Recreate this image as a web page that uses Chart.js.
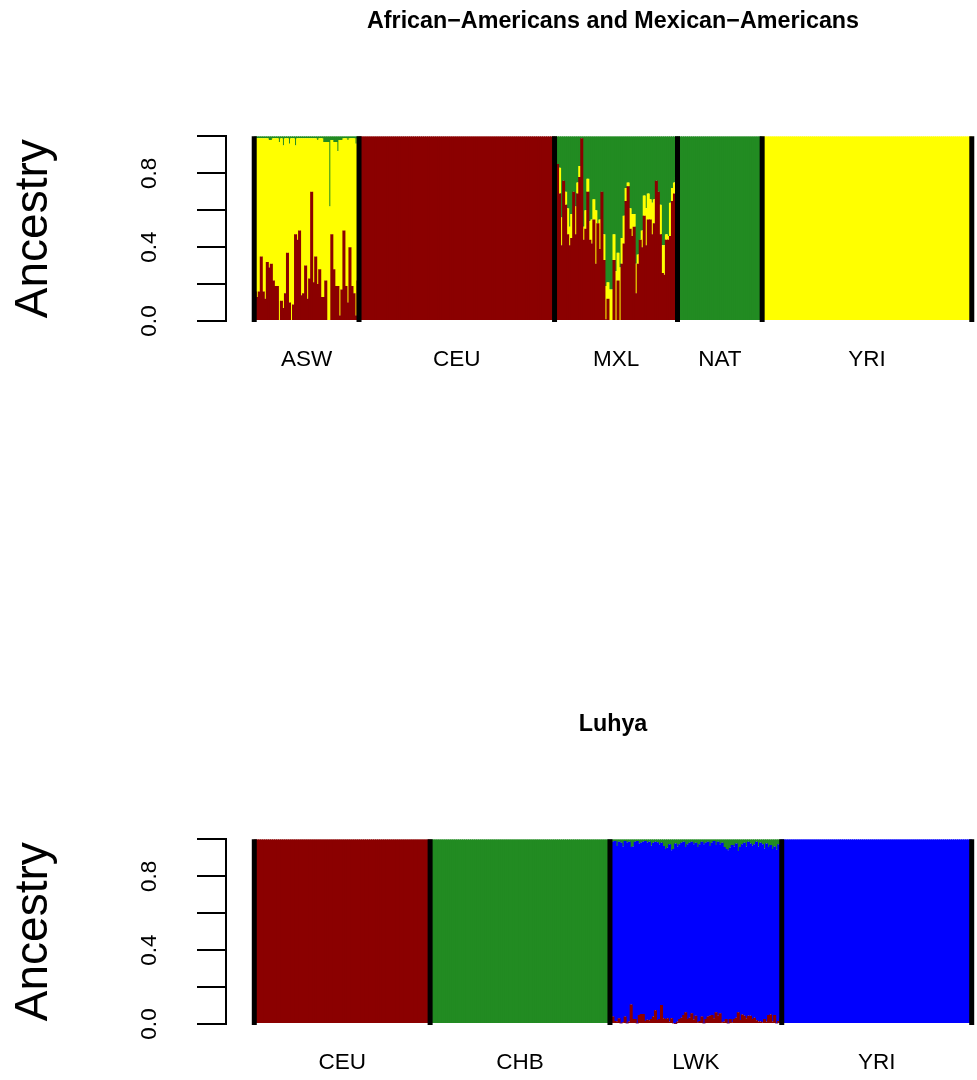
<!DOCTYPE html>
<html><head><meta charset="utf-8">
<script src="https://cdn.jsdelivr.net/npm/chart.js@4.4.1/dist/chart.umd.min.js"></script>
<style>
html,body{margin:0;padding:0;background:#fff;overflow:hidden;width:977px;height:1080px;}
canvas{position:absolute;left:0;}
#c1{top:0px}
#c2{top:703px}
</style></head><body>
<canvas id="c1" width="1000" height="377"></canvas>
<canvas id="c2" width="1000" height="377"></canvas>
<script>
// ---------------- Top panel data ----------------
const topTitle = 'African\u2212Americans and Mexican\u2212Americans';
const topGroups = ['ASW', 'CEU', 'MXL', 'NAT', 'YRI'];
const topComponents = ['CEU', 'YRI', 'NAT'];           // stacking order, bottom -> top
const topColors = ['#8B0000', '#FFFF00', '#228B22'];

const aswCEU = [0.16,0.13,0.16,0.35,0.16,0.12,0.32,0.29,0.31,0.22,
  0.19,0.19,0.00,0.11,0.07,0.15,0.37,0.10,0.00,0.09,
  0.47,0.44,0.49,0.14,0.15,0.30,0.12,0.23,0.70,0.21,
  0.35,0.20,0.28,0.13,0.13,0.22,0.00,0.00,0.47,0.28,
  0.19,0.19,0.03,0.17,0.49,0.19,0.10,0.40,0.19,0.15,
  0.03,0.22];
const aswYRI = [0.83,0.86,0.83,0.64,0.83,0.87,0.67,0.69,0.67,0.77,
  0.80,0.80,0.97,0.88,0.88,0.84,0.62,0.86,0.99,0.90,
  0.48,0.55,0.50,0.85,0.84,0.69,0.87,0.76,0.29,0.78,
  0.64,0.78,0.71,0.86,0.84,0.75,0.97,0.62,0.51,0.69,
  0.78,0.73,0.95,0.81,0.50,0.80,0.88,0.59,0.80,0.84,
  0.93,0.77];
const aswNAT = [0.01,0.01,0.01,0.01,0.01,0.01,0.01,0.02,0.02,0.01,
  0.01,0.01,0.03,0.01,0.05,0.01,0.01,0.04,0.01,0.01,
  0.05,0.01,0.01,0.01,0.01,0.01,0.01,0.01,0.01,0.01,
  0.01,0.02,0.01,0.01,0.03,0.03,0.03,0.38,0.02,0.03,
  0.03,0.08,0.02,0.02,0.01,0.01,0.02,0.01,0.01,0.01,
  0.04,0.01];

const ceuTopCEU = [1,1,1,1,1,1,1,1,1,1,
  1,1,1,1,1,1,1,1,1,1,
  1,1,1,1,1,1,1,1,1,1,
  1,1,1,1,1,1,1,1,1,1,
  1,1,1,1,1,1,1,1,1,1,
  1,1,1,1,1,1,1,1,1,1,
  1,1,1,1,1,1,1,1,1,1,
  1,1,1,1,1,1,1,1,1,1,
  1,1,1,1,1,1,1,1,1,1,
  1,1,1,1,1,1,1];

const mxlCEU = [0.80,0.85,0.69,0.41,0.76,0.63,0.47,0.41,0.45,0.70,
  0.47,0.69,0.78,0.99,0.44,0.50,0.70,0.44,0.42,0.55,
  0.31,0.53,0.39,0.70,0.33,0.01,0.12,0.00,0.00,0.33,
  0.00,0.22,0.00,0.31,0.42,0.65,0.73,0.50,0.46,0.51,
  0.15,0.31,0.44,0.40,0.57,0.41,0.55,0.55,0.47,0.53,
  0.76,0.70,0.47,0.26,0.25,0.44,0.44,0.46,0.65,0.69,
  0.71];
const mxlYRI = [0.05,0.00,0.14,0.15,0.00,0.07,0.14,0.10,0.13,0.00,
  0.15,0.06,0.06,0.00,0.07,0.10,0.07,0.10,0.13,0.11,
  0.29,0.00,0.16,0.00,0.14,0.18,0.09,0.17,0.17,0.14,
  0.27,0.15,0.29,0.14,0.15,0.07,0.02,0.11,0.12,0.07,
  0.16,0.05,0.00,0.09,0.11,0.20,0.14,0.11,0.17,0.13,
  0.00,0.00,0.16,0.15,0.16,0.03,0.02,0.18,0.07,0.06,
  0.07];
const mxlNAT = [0.15,0.15,0.17,0.44,0.24,0.30,0.39,0.49,0.42,0.30,
  0.38,0.25,0.16,0.01,0.49,0.40,0.23,0.46,0.45,0.34,
  0.40,0.47,0.45,0.30,0.53,0.81,0.79,0.83,0.83,0.53,
  0.73,0.63,0.71,0.55,0.43,0.28,0.25,0.39,0.42,0.42,
  0.69,0.64,0.56,0.51,0.32,0.39,0.31,0.34,0.36,0.34,
  0.24,0.30,0.37,0.59,0.59,0.53,0.54,0.36,0.28,0.25,
  0.22];

const natTopNAT = [1,1,1,1,1,1,1,1,1,1,
  1,1,1,1,1,1,1,1,1,1,
  1,1,1,1,1,1,1,1,1,1,
  1,1,1,1,1,1,1,1,1,1,
  1,1];

const yriTopYRI = [1,1,1,1,1,1,1,1,1,1,
  1,1,1,1,1,1,1,1,1,1,
  1,1,1,1,1,1,1,1,1,1,
  1,1,1,1,1,1,1,1,1,1,
  1,1,1,1,1,1,1,1,1,1,
  1,1,1,1,1,1,1,1,1,1,
  1,1,1,1,1,1,1,1,1,1,
  1,1,1,1,1,1,1,1,1,1,
  1,1,1,1,1,1,1,1,1,1,
  1,1,1,1,1,1,1,1,1,1,
  1,1,1,1];

// ---------------- Bottom panel data ----------------
const botTitle = 'Luhya';
const botGroups = ['CEU', 'CHB', 'LWK', 'YRI'];
const botComponents = ['CEU', 'YRI', 'CHB'];          // stacking order, bottom -> top
const botColors = ['#8B0000', '#0000FF', '#228B22'];

const ceuBotCEU = [1,1,1,1,1,1,1,1,1,1,
  1,1,1,1,1,1,1,1,1,1,
  1,1,1,1,1,1,1,1,1,1,
  1,1,1,1,1,1,1,1,1,1,
  1,1,1,1,1,1,1,1,1,1,
  1,1,1,1,1,1,1,1,1,1,
  1,1,1,1,1,1,1,1,1,1,
  1,1,1,1,1,1,1,1,1,1,
  1,1,1,1,1,1,1];

const chbBotCHB = [1,1,1,1,1,1,1,1,1,1,
  1,1,1,1,1,1,1,1,1,1,
  1,1,1,1,1,1,1,1,1,1,
  1,1,1,1,1,1,1,1,1,1,
  1,1,1,1,1,1,1,1,1,1,
  1,1,1,1,1,1,1,1,1,1,
  1,1,1,1,1,1,1,1,1,1,
  1,1,1,1,1,1,1,1,1,1,
  1,1,1,1,1,1,1,1,1];

const lwkCEU = [0.009,0.040,0.016,0.013,0.031,0.004,0.009,0.040,0.004,0.013,
  0.106,0.027,0.027,0.004,0.049,0.054,0.054,0.016,0.023,0.020,
  0.027,0.040,0.074,0.022,0.027,0.103,0.031,0.027,0.031,0.013,
  0.031,0.004,0.002,0.013,0.027,0.034,0.049,0.063,0.027,0.034,
  0.058,0.025,0.045,0.009,0.016,0.040,0.004,0.027,0.040,0.045,
  0.049,0.031,0.063,0.045,0.058,0.009,0.013,0.027,0.004,0.027,
  0.009,0.027,0.034,0.063,0.022,0.052,0.045,0.031,0.045,0.045,
  0.027,0.034,0.020,0.013,0.013,0.009,0.027,0.013,0.049,0.052,
  0.013,0.049,0.004,0.016,0.031];
const lwkYRI = [0.960,0.947,0.975,0.951,0.956,0.978,0.953,0.951,0.978,0.974,
  0.853,0.935,0.960,0.987,0.928,0.928,0.933,0.975,0.959,0.967,
  0.939,0.942,0.913,0.962,0.946,0.879,0.933,0.921,0.924,0.960,
  0.910,0.944,0.975,0.949,0.946,0.948,0.938,0.896,0.946,0.948,
  0.929,0.948,0.937,0.950,0.957,0.947,0.969,0.955,0.947,0.919,
  0.933,0.960,0.906,0.942,0.915,0.973,0.946,0.921,0.937,0.928,
  0.960,0.935,0.943,0.874,0.937,0.921,0.937,0.931,0.942,0.932,
  0.939,0.939,0.967,0.949,0.969,0.964,0.924,0.964,0.910,0.917,
  0.935,0.913,0.940,0.957,0.924];
const lwkCHB = [0.031,0.013,0.009,0.036,0.013,0.018,0.038,0.009,0.018,0.013,
  0.041,0.038,0.013,0.009,0.023,0.018,0.013,0.009,0.018,0.013,
  0.034,0.018,0.013,0.016,0.027,0.018,0.036,0.052,0.045,0.027,
  0.059,0.052,0.023,0.038,0.027,0.018,0.013,0.041,0.027,0.018,
  0.013,0.027,0.018,0.041,0.027,0.013,0.027,0.018,0.013,0.036,
  0.018,0.009,0.031,0.013,0.027,0.018,0.041,0.052,0.059,0.045,
  0.031,0.038,0.023,0.063,0.041,0.027,0.018,0.038,0.013,0.023,
  0.034,0.027,0.013,0.038,0.018,0.027,0.049,0.023,0.041,0.031,
  0.052,0.038,0.056,0.027,0.045];

const yriBotYRI = [1,1,1,1,1,1,1,1,1,1,
  1,1,1,1,1,1,1,1,1,1,
  1,1,1,1,1,1,1,1,1,1,
  1,1,1,1,1,1,1,1,1,1,
  1,1,1,1,1,1,1,1,1,1,
  1,1,1,1,1,1,1,1,1,1,
  1,1,1,1,1,1,1,1,1,1,
  1,1,1,1,1,1,1,1,1,1,
  1,1,1,1,1,1,1,1,1,1,
  1,1,1,1];

// ---------------- Axis tick labels ----------------
const yTickValues = [0, 0.2, 0.4, 0.6, 0.8, 1.0];
const yTickLabels = ['0.0', '', '0.4', '', '0.8', ''];
const yTitle = 'Ancestry';

// ---------------- Group tables ----------------
const topData = {
  ASW: {CEU: aswCEU, YRI: aswYRI, NAT: aswNAT},
  CEU: {CEU: ceuTopCEU},
  MXL: {CEU: mxlCEU, YRI: mxlYRI, NAT: mxlNAT},
  NAT: {NAT: natTopNAT},
  YRI: {YRI: yriTopYRI}
};
const botData = {
  CEU: {CEU: ceuBotCEU},
  CHB: {CHB: chbBotCHB},
  LWK: {CEU: lwkCEU, YRI: lwkYRI, CHB: lwkCHB},
  YRI: {YRI: yriBotYRI}
};

const FONT = '"Liberation Sans", Arial, Helvetica, sans-serif';
Chart.defaults.font.family = FONT;
Chart.defaults.color = '#000';

// empty category slots on each side of the bars (the 4% axis extension of the original plot)
const EDGE_SLOTS = 14;

const separators = {
  id: 'separators',
  afterDatasetsDraw(chart, args, opts) {
    const {ctx, scales: {x, y}} = chart;
    ctx.save();
    ctx.strokeStyle = '#000';
    ctx.lineWidth = 5;
    ctx.lineCap = 'butt';
    const yTop = y.getPixelForValue(1);
    const yBot = y.getPixelForValue(0) + 1;
    opts.bounds.forEach(b => {
      const px = x.getPixelForValue(b);
      ctx.beginPath();
      ctx.moveTo(px, yTop);
      ctx.lineTo(px, yBot);
      ctx.stroke();
    });
    ctx.restore();
  }
};

function makePanel(canvasId, title, groupNames, groupData, components, colors) {
  const labels = [];
  const series = components.map(() => []);
  const bounds = [];
  const centers = [];
  for (let i = 0; i < EDGE_SLOTS; i++) { labels.push(''); series.forEach(s => s.push(null)); }
  groupNames.forEach(g => {
    const d = groupData[g];
    const n = d[Object.keys(d)[0]].length;
    const start = labels.length;
    bounds.push(start - 0.5);
    for (let i = 0; i < n; i++) {
      labels.push(g + (i + 1));
      components.forEach((c, j) => series[j].push(d[c] ? d[c][i] : null));
    }
    centers.push(start + n / 2 - 0.5);
  });
  bounds.push(labels.length - 0.5);
  for (let i = 0; i < EDGE_SLOTS; i++) { labels.push(''); series.forEach(s => s.push(null)); }

  const datasets = components.map((c, j) => ({
    label: c, data: series[j], backgroundColor: colors[j], borderWidth: 0,
    barPercentage: 1.5, categoryPercentage: 1, inflateAmount: 0
  }));

  new Chart(document.getElementById(canvasId), {
    type: 'bar',
    data: {labels, datasets},
    plugins: [separators],
    options: {
      responsive: false,
      animation: false,
      layout: {padding: 0},
      plugins: {
        legend: {display: false},
        tooltip: {enabled: false},
        separators: {bounds},
        title: {
          display: true, text: title, fullSize: false, color: '#000',
          font: {family: FONT, size: 23.3, weight: 'bold'},
          padding: {top: 8, bottom: 100.4}
        }
      },
      scales: {
        x: {
          type: 'category', stacked: true, offset: true,
          afterBuildTicks: s => { s.ticks = centers.map(v => ({value: v})); },
          afterFit: s => { s.height = 56; },
          grid: {display: false, drawTicks: false},
          border: {display: false},
          ticks: {
            autoSkip: false, maxRotation: 0, minRotation: 0, color: '#000',
            font: {family: FONT, size: 22.5}, padding: 25,
            callback: (v, i) => groupNames[i]
          }
        },
        y: {
          type: 'linear', stacked: true, min: 0, max: 1,
          afterBuildTicks: s => { s.ticks = yTickValues.map(v => ({value: v})); },
          afterFit: s => { s.width = 226; },
          grid: {display: true, drawOnChartArea: false, drawTicks: true, tickLength: 29, color: '#000', lineWidth: 2},
          border: {display: true, color: '#000', width: 2},
          ticks: {
            autoSkip: false, minRotation: 90, maxRotation: 90, crossAlign: 'center',
            padding: 32, color: '#000', font: {family: FONT, size: 22.5},
            callback: (v, i) => yTickLabels[i]
          },
          title: {display: true, text: yTitle, color: '#000', font: {family: FONT, size: 46}, padding: {top: 7, bottom: 0}}
        }
      }
    }
  });
}

makePanel('c1', topTitle, topGroups, topData, topComponents, topColors);
makePanel('c2', botTitle, botGroups, botData, botComponents, botColors);
</script>
</body></html>
